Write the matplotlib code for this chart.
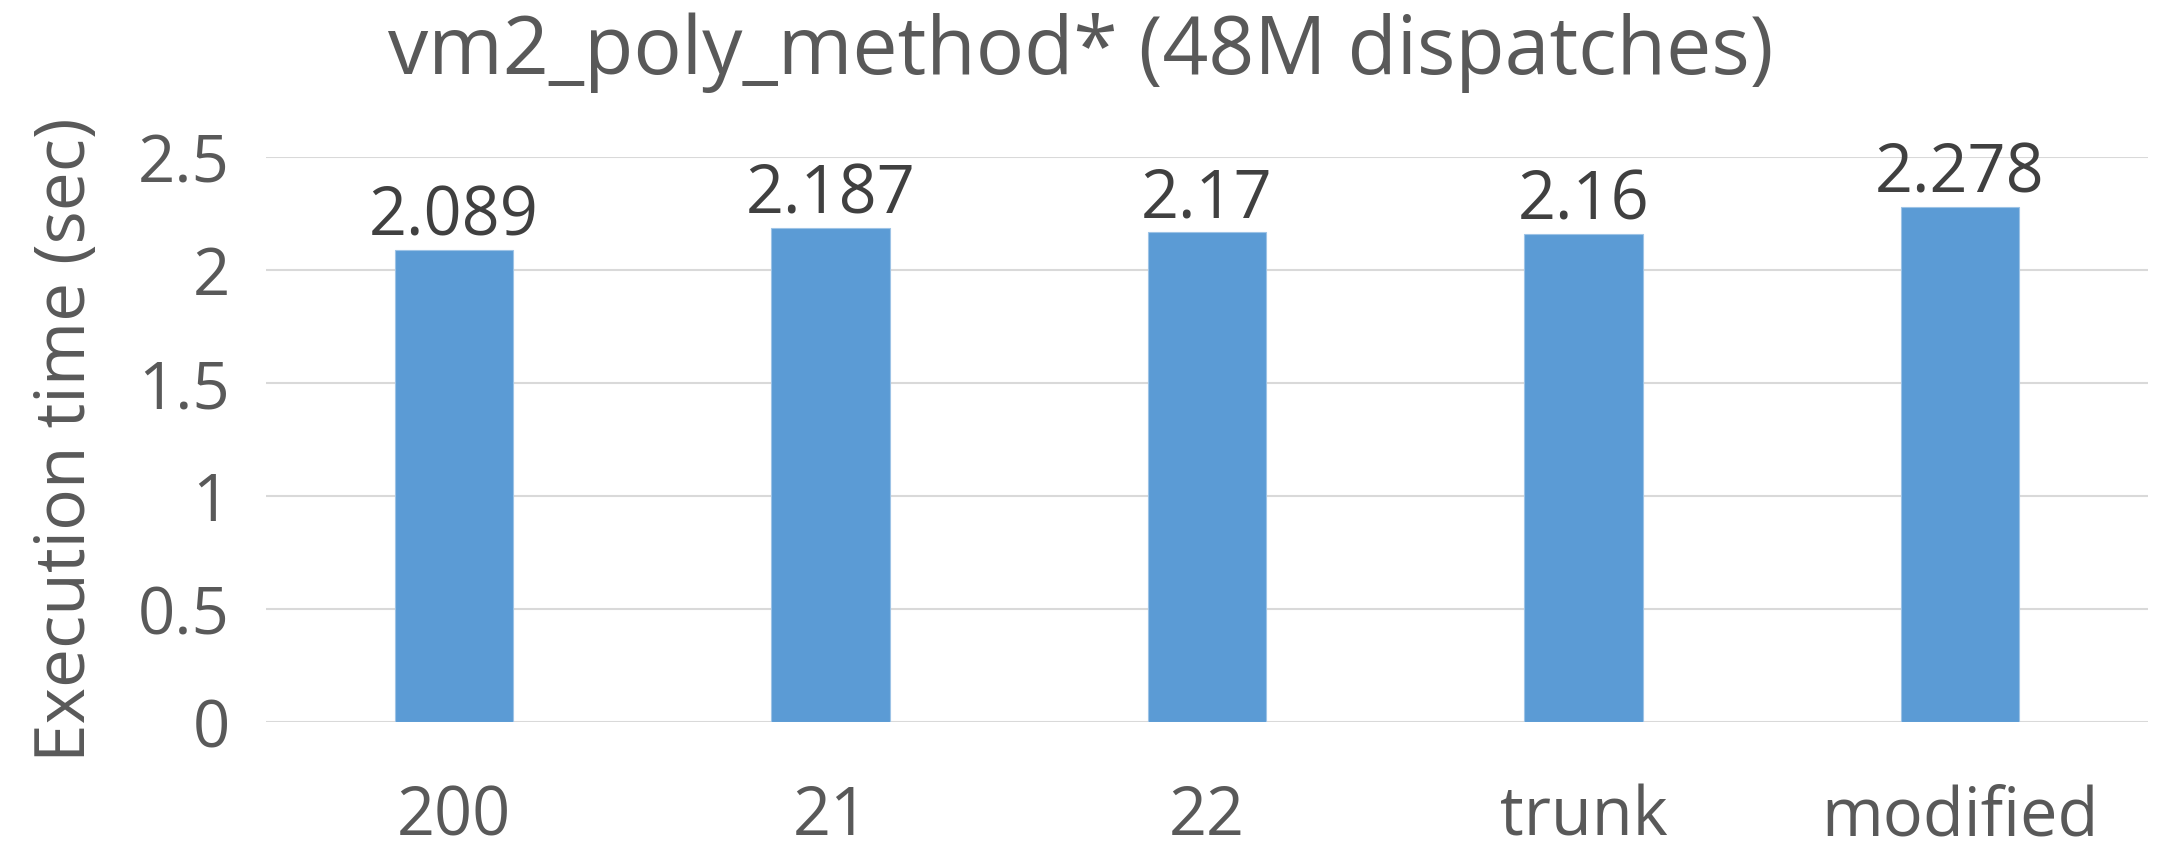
import matplotlib
matplotlib.use("Agg")
import matplotlib.pyplot as plt

categories = ["200", "21", "22", "trunk", "modified"]
times = [2.089, 2.187, 2.17, 2.16, 2.278]
yticks = [0, 0.5, 1, 1.5, 2, 2.5]
ytick_labels = ["0", "0.5", "1", "1.5", "2", "2.5"]

plt.rcParams["font.family"] = ["Open Sans", "DejaVu Sans"]

fig = plt.figure(figsize=(21.62, 8.49), dpi=100)
ax = fig.add_axes([0.123, 0.149, 0.8706, 0.666])

x = range(len(categories))
bars = ax.bar(x, times, width=0.315, color="#5B9BD5", edgecolor="#9DC3E6",
              linewidth=0.8, zorder=3)

for xi, v in zip(x, times):
    ax.annotate(f"{v:g}", (xi, v), xytext=(0, -1), textcoords="offset points",
                ha="center", va="bottom", fontsize=48, color="#404040")

ax.set_xlim(-0.5, len(categories) - 0.5)
ax.set_ylim(0, 2.5)
ax.set_yticks(yticks)
ax.set_yticklabels(ytick_labels)
ax.set_xticks(list(x))
ax.set_xticklabels(categories)
ax.tick_params(axis="both", length=0, labelcolor="#595959")
ax.tick_params(axis="y", labelsize=47, pad=26)
ax.tick_params(axis="x", labelsize=48, pad=44)

ax.yaxis.grid(True, color="#D9D9D9", linewidth=1.5, zorder=0)
for s in ax.spines.values():
    s.set_visible(False)

ax.set_ylabel("Execution time (sec)", fontsize=50, color="#595959", labelpad=26)
fig.suptitle("vm2_poly_method* (48M dispatches)", fontsize=58, color="#595959",
             y=0.985, va="top")

fig.savefig("out.png", dpi=100, facecolor="white")
